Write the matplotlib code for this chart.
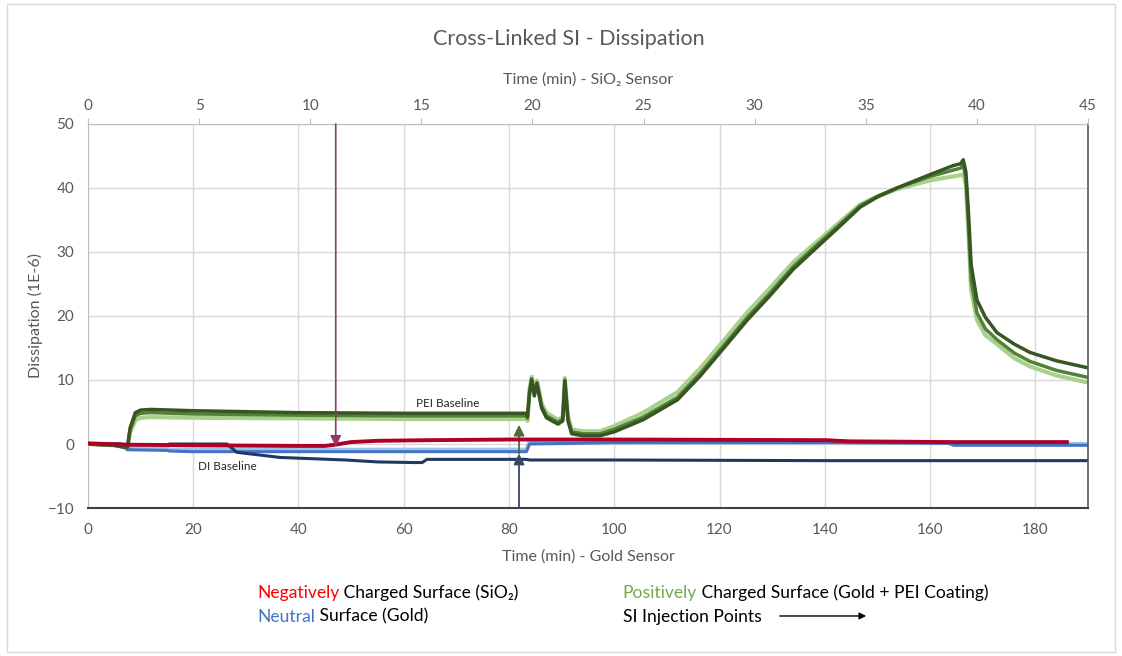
import numpy as np
import matplotlib
matplotlib.use("Agg")
import matplotlib.pyplot as plt
from matplotlib.patches import Rectangle

plt.rcParams['font.family'] = ['Lato', 'DejaVu Sans']

# gold sensor time (min) - bottom axis
# positively charged surface (gold + PEI), three runs
green_t = [0, 5, 7, 7.5, 8, 9, 10, 12, 20, 40, 60, 80, 83.2, 83.5, 83.9, 84.3, 84.8, 85.3,
           86.2, 87.1, 89.3, 90.2, 90.6, 91.2, 91.9, 94, 97.3, 100, 105.5, 112, 116.3, 120,
           125.2, 129.6, 134, 137.8, 142.3, 146.7, 150, 153.7, 160, 164.4, 165.8, 166.3,
           166.8, 167.3, 167.8, 168.9, 170.5, 172.7, 176, 179, 184, 190]
green_dark = [0, -0.2, -0.5, -0.6, 2.5, 4.9, 5.3, 5.4, 5.2, 4.9, 4.8, 4.8, 4.8, 4.3, 8.0, 10.0, 7.5, 9.4,
              5.6, 4.1, 3.1, 3.6, 9.8, 3.6, 1.6, 1.3, 1.3, 1.9, 3.8, 6.9, 10.6, 14.2,
              19.3, 23.2, 27.3, 30.2, 33.6, 37.0, 38.6, 40.0, 42.1, 43.5, 43.8, 44.4,
              42.5, 36.0, 28.0, 22.5, 19.8, 17.4, 15.6, 14.3, 13.0, 11.9]
green_mid = [0, -0.2, -0.5, -0.6, 2.2, 4.4, 4.8, 4.9, 4.7, 4.5, 4.4, 4.4, 4.4, 4.0, 8.2, 10.2, 7.7, 9.6,
             5.9, 4.4, 3.4, 3.9, 10.0, 3.9, 1.9, 1.6, 1.6, 2.3, 4.2, 7.3, 11.0, 14.6,
             19.7, 23.6, 27.7, 30.6, 33.9, 37.2, 38.7, 40.0, 41.8, 42.8, 43.1, 43.6,
             41.5, 34.0, 25.5, 20.5, 18.0, 16.3, 14.2, 12.9, 11.5, 10.4]
green_light = [0, -0.2, -0.5, -0.6, 1.8, 3.7, 4.1, 4.2, 4.1, 4.0, 3.9, 3.9, 3.9, 3.6, 8.6, 10.5, 8.0, 9.9,
               6.3, 4.9, 3.8, 4.2, 10.3, 4.3, 2.3, 2.0, 2.0, 2.8, 4.9, 8.1, 11.8, 15.4,
               20.5, 24.4, 28.4, 31.1, 34.3, 37.4, 38.7, 39.8, 41.2, 41.8, 42.0, 42.1,
               40.5, 33.0, 24.0, 19.4, 17.0, 15.6, 13.4, 12.1, 10.7, 9.6]

# neutral surface (gold), three runs
blue_t = [0, 6, 7.5, 15, 15.5, 20, 26.4, 28.3, 36.5, 49, 55, 62, 63.5, 64.4, 83.3, 83.9, 100,
          140, 163.5, 164.5, 190]
blue_navy = [0, 0, -0.1, -0.1, 0.0, 0.0, 0.0, -1.3, -2.1, -2.5, -2.8, -2.9, -2.9, -2.4, -2.4,
             -2.5, -2.5, -2.6, -2.6, -2.6, -2.6]
blue_mid = [0, 0, -0.9, -1.0, -1.1, -1.2, -1.2, -1.2, -1.2, -1.2, -1.2, -1.2, -1.2, -1.2, -1.2,
            0.0, 0.2, 0.2, 0.1, -0.2, -0.2]
blue_light = [0, 0, -0.6, -0.7, -0.9, -0.9, -0.9, -0.9, -0.9, -0.9, -0.9, -0.9, -0.9, -0.9, -0.9,
              0.3, 0.4, 0.4, 0.3, 0.0, 0.0]

# negatively charged surface (SiO2) - SiO2 sensor time (min), top axis
red_t = [0, 1.66, 4.74, 9.47, 10.66, 11.13, 11.84, 13.03, 15.4, 18.95, 23.7, 33.2, 34.3, 38.8, 44.05]
red_d = [0.1, -0.1, -0.2, -0.3, -0.3, -0.1, 0.3, 0.5, 0.6, 0.7, 0.7, 0.6, 0.4, 0.3, 0.3]

# injection points
inj_sio2 = 11.15   # SiO2 time
inj_gold = 81.9    # gold time

fig = plt.figure(figsize=(11.22, 6.56), dpi=100)
fig.patches.append(Rectangle((0.006, 0.006), 0.988, 0.988, transform=fig.transFigure,
                             fill=False, edgecolor='#D9D9D9', lw=1))

ax = fig.add_axes([0.0784, 0.2256, 0.8913, 0.5854])
ax.set_xlim(0, 190)
ax.set_ylim(-10, 50)
ax.set_xticks(np.arange(0, 181, 20))
ax.set_yticks(np.arange(-10, 51, 10))
ax.grid(True, color='#D9D9D9', lw=1)
ax.set_axisbelow(True)

# blue (gold) curves
ax.plot(blue_t, blue_light, color='#9DC3E6', lw=3)
ax.plot(blue_t, blue_mid, color='#4472C4', lw=2.2)
ax.plot(blue_t, blue_navy, color='#1F3864', lw=2.2)

# green (gold + PEI) curves
ax.plot(green_t, green_light, color='#A9D18E', lw=3)
ax.plot(green_t, green_mid, color='#548235', lw=2.5)
ax.plot(green_t, green_dark, color='#375623', lw=2.5)

ax.text(68.4, 6.4, 'PEI Baseline', fontsize=8.5, ha='center', va='center', color='#262626')
ax.text(26.4, -3.5, 'DI Baseline', fontsize=8.5, ha='center', va='center', color='#262626')

# gold injection arrows
ax.annotate('', xy=(inj_gold, -1.5), xytext=(inj_gold, -10),
            arrowprops=dict(arrowstyle='-|>', color='#3A4A64', lw=1.3, mutation_scale=16,
                            shrinkA=0, shrinkB=0))
ax.annotate('', xy=(inj_gold, 3.0), xytext=(inj_gold, -1.5),
            arrowprops=dict(arrowstyle='-|>', color='#4F6B3A', lw=1.3, mutation_scale=16,
                            shrinkA=0, shrinkB=0))

ax.set_xlabel('Time (min) - Gold Sensor', fontsize=11.5, color='#595959', labelpad=9)
ax.set_ylabel('Dissipation (1E-6)', fontsize=11.5, color='#595959', labelpad=3)
ax.tick_params(axis='both', labelsize=11, labelcolor='#595959', length=0)
ax.tick_params(axis='x', pad=11)
ax.tick_params(axis='y', pad=10)
ax.spines['top'].set_visible(False)
ax.spines['left'].set_color('#BFBFBF')
ax.spines['bottom'].set_color('#404040')
ax.spines['bottom'].set_linewidth(1.5)
ax.spines['right'].set_color('#595959')
ax.spines['right'].set_linewidth(1.2)

# SiO2 axis on top
ax2 = ax.twiny()
ax2.set_xlim(0, 45)
ax2.set_xticks(np.arange(0, 46, 5))
ax2.plot(red_t, red_d, color='#B0002A', lw=2.8)
ax2.annotate('', xy=(inj_sio2, -0.4), xytext=(inj_sio2, 50),
             arrowprops=dict(arrowstyle='-|>', color='#8E3A66', lw=1.2, mutation_scale=16,
                             shrinkA=0, shrinkB=0))
ax2.set_xlabel('Time (min) - SiO₂ Sensor', fontsize=11.5, color='#595959', labelpad=11)
ax2.tick_params(axis='x', labelsize=11, labelcolor='#595959', length=4, color='#BFBFBF', pad=4)
for s in ['left', 'right', 'bottom']:
    ax2.spines[s].set_visible(False)
ax2.spines['top'].set_color('#BFBFBF')

fig.text(0.507, 0.941, 'Cross-Linked SI - Dissipation', fontsize=15.5, color='#595959',
         ha='center', va='center')

# legend built from coloured text pieces
renderer = fig.canvas.get_renderer()


def text_row(x, y, parts):
    for txt, col in parts:
        t = fig.text(x, y, txt, fontsize=12.6, color=col, ha='left', va='baseline')
        bb = t.get_window_extent(renderer)
        x = fig.transFigure.inverted().transform((bb.x1, bb.y0))[0]
    return x


text_row(0.229, 0.089, [('Negatively', '#FF0000'), (' Charged Surface (SiO₂)', '#000000')])
text_row(0.229, 0.052, [('Neutral', '#4472C4'), (' Surface (Gold)', '#000000')])
text_row(0.555, 0.089, [('Positively', '#70AD47'),
                        (' Charged Surface (Gold + PEI Coating)', '#000000')])
text_row(0.555, 0.052, [('SI Injection Points', '#000000')])
ax.annotate('', xy=(0.772, 0.061), xytext=(0.695, 0.061), xycoords='figure fraction',
            textcoords='figure fraction', annotation_clip=False,
            arrowprops=dict(arrowstyle='-|>', color='black', lw=1, mutation_scale=10,
                            shrinkA=0, shrinkB=0))

fig.savefig('out.png', dpi=100)
